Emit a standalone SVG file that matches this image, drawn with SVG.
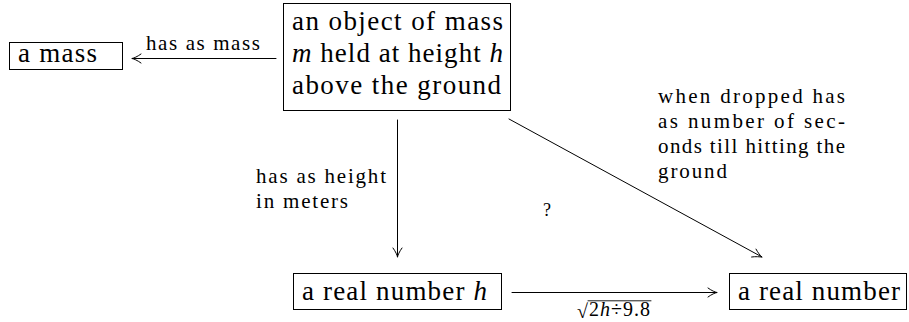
<svg xmlns="http://www.w3.org/2000/svg" width="909" height="322" viewBox="0 0 909 322">
<g id="connectors" fill="none" stroke="#000" stroke-width="1" stroke-linecap="round">
<line id="e-mass" x1="276" y1="58.5" x2="132" y2="58.5"/>
<path d="M141,54 C137,56.9 134,58 132,58.5 C134,59 137,60.1 141,63"/>
<line id="e-height" x1="397.5" y1="120" x2="397.5" y2="257"/>
<path d="M393,248 C395.9,252 397,255 397.5,257 C398,255 399.1,252 402,248"/>
<line id="e-seconds" x1="509" y1="119" x2="762" y2="257"/>
<path d="M756,249.1 C757.8,252.5 760.2,255.6 762,257 C759.7,256.9 756,256.3 751.6,257"/>
<line id="e-sqrt" x1="512" y1="292.5" x2="717" y2="292.5"/>
<path d="M708,288 C712,290.9 715,292 717,292.5 C715,293 712,294.1 708,297"/>
<line id="e-sqrt-bar" x1="588" y1="300.8" x2="651" y2="300.8" stroke-width="0.9"/>
</g>
<g id="labels">
<text font-family="Liberation Serif" font-size="21" x="146" y="50" textLength="114" lengthAdjust="spacing">has as mass</text>
<text font-family="Liberation Serif" font-size="21" x="256" y="183" textLength="130" lengthAdjust="spacing">has as height</text>
<text font-family="Liberation Serif" font-size="21" x="256" y="208" textLength="92" lengthAdjust="spacing">in meters</text>
<text font-family="Liberation Serif" font-size="21" x="658" y="103" textLength="187" lengthAdjust="spacing">when dropped has</text>
<text font-family="Liberation Serif" font-size="21" x="658" y="128" textLength="187" lengthAdjust="spacing">as number of sec-</text>
<text font-family="Liberation Serif" font-size="21" x="658" y="153" textLength="187" lengthAdjust="spacing">onds till hitting the</text>
<text font-family="Liberation Serif" font-size="21" x="658" y="178" textLength="69" lengthAdjust="spacing">ground</text>
<text font-family="Liberation Serif" font-size="20" x="577" y="318">√</text>
<text font-family="Liberation Serif" font-size="20" x="589" y="316" textLength="61" lengthAdjust="spacing">2<tspan font-style="italic">h</tspan>÷9.8</text>
<text font-family="Liberation Serif" font-size="18" x="543" y="216">?</text>
</g>
<g id="n-mass">
<rect x="9.5" y="42.5" width="113" height="27" fill="#fff" stroke="#000" stroke-width="1"/>
<text font-family="Liberation Serif" font-size="27" x="18" y="62" textLength="79" lengthAdjust="spacing">a mass</text>
</g>
<g id="n-object">
<rect x="283.5" y="3.5" width="227" height="107" fill="#fff" stroke="#000" stroke-width="1"/>
<text font-family="Liberation Serif" font-size="27" x="292" y="30" textLength="211" lengthAdjust="spacing">an object of mass</text>
<text font-family="Liberation Serif" font-size="27" x="292" y="62" textLength="211" lengthAdjust="spacing"><tspan font-style="italic">m</tspan> held at height <tspan font-style="italic">h</tspan></text>
<text font-family="Liberation Serif" font-size="27" x="292" y="94" textLength="209" lengthAdjust="spacing">above the ground</text>
</g>
<g id="n-h">
<rect x="293.5" y="273.5" width="208" height="36" fill="#fff" stroke="#000" stroke-width="1"/>
<text font-family="Liberation Serif" font-size="27" x="302" y="300" textLength="185" lengthAdjust="spacing">a real number <tspan font-style="italic">h</tspan></text>
</g>
<g id="n-real">
<rect x="729.5" y="273.5" width="177" height="36" fill="#fff" stroke="#000" stroke-width="1"/>
<text font-family="Liberation Serif" font-size="27" x="738" y="300" textLength="162" lengthAdjust="spacing">a real number</text>
</g>
</svg>
